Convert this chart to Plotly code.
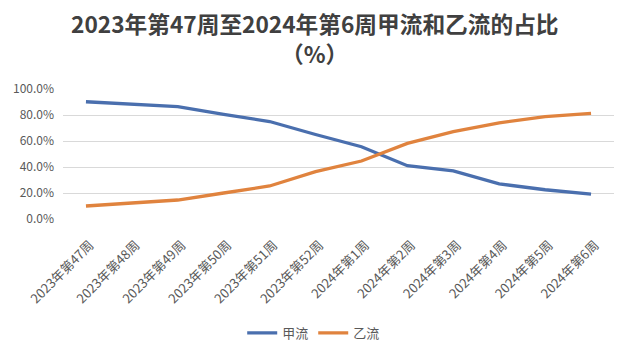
import plotly.graph_objects as go

categories = ["2023年第47周", "2023年第48周", "2023年第49周", "2023年第50周", "2023年第51周",
              "2023年第52周", "2024年第1周", "2024年第2周", "2024年第3周", "2024年第4周",
              "2024年第5周", "2024年第6周"]
flu_a = [0.902, 0.882, 0.864, 0.805, 0.750, 0.650, 0.556, 0.410, 0.370, 0.270, 0.225, 0.192]
flu_b = [0.100, 0.123, 0.146, 0.200, 0.254, 0.364, 0.446, 0.582, 0.672, 0.740, 0.787, 0.813]
y_ticks = [0, 0.2, 0.4, 0.6, 0.8, 1.0]

fig = go.Figure()
fig.add_trace(go.Scatter(x=categories, y=flu_a, name="甲流", mode="lines",
                         line=dict(color="#4A6FAE", width=3.3)))
fig.add_trace(go.Scatter(x=categories, y=flu_b, name="乙流", mode="lines",
                         line=dict(color="#E0833E", width=3.3)))

font_family = "Noto Sans CJK SC, Noto Sans, sans-serif"
fig.update_layout(
    width=630, height=357,
    margin=dict(l=63, r=16, t=89, b=138, autoexpand=False),
    paper_bgcolor="white", plot_bgcolor="white",
    font=dict(family=font_family, color="#595959", size=12),
    showlegend=True,
    legend=dict(orientation="h", x=0.455, xanchor="center", y=-0.877, yanchor="middle",
                font=dict(size=13, color="#595959"), itemwidth=30, tracegroupgap=0),
    annotations=[
        dict(text="<b>2023年第47周至2024年第6周甲流和乙流的占比</b>", xref="paper", yref="paper",
             x=0.457, y=1.0, yshift=66, xanchor="center", yanchor="middle", showarrow=False,
             font=dict(size=22.7, color="#404040", family=font_family)),
        dict(text="<b>（%）</b>", xref="paper", yref="paper",
             x=0.457, y=1.0, yshift=36, xanchor="center", yanchor="middle", showarrow=False,
             font=dict(size=22.7, color="#404040", family=font_family)),
    ],
)
fig.update_xaxes(type="category", range=[-0.5, len(categories) - 0.5], tickangle=-45,
                 showgrid=False, showline=False, automargin=False,
                 ticks="", tickfont=dict(size=13, color="#595959"), zeroline=False,
                 ticklabelshift=4, ticklabelstandoff=15)
fig.update_yaxes(range=[0, 1.0], tickvals=y_ticks, tickformat=".1%", showgrid=True, automargin=False,
                 gridcolor="#D9D9D9", gridwidth=1, zeroline=False, showline=False,
                 ticks="", tickfont=dict(size=12, color="#595959"), ticklabelstandoff=8)

fig.write_html("out.html", config={"displayModeBar": False},
               post_script="document.body.style.margin='0';")
